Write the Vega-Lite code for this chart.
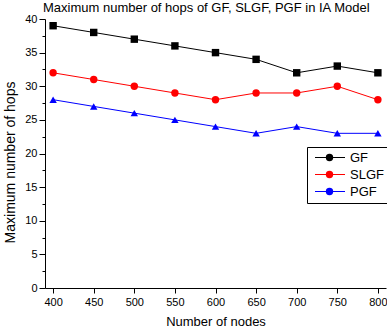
{
  "$schema": "https://vega.github.io/schema/vega-lite/v6.json",
  "width": 341,
  "height": 269,
  "autosize": {"type": "none"},
  "padding": {"left": 45, "top": 19, "right": 1, "bottom": 47},
  "background": "white",
  "config": {
    "font": "Liberation Sans",
    "view": {"stroke": null},
    "axis": {"labelFont": "Liberation Sans", "titleFont": "Liberation Sans", "grid": false, "domainColor": "black", "tickColor": "black", "labelColor": "black", "titleColor": "black", "titleFontWeight": "normal", "labelFontSize": 11, "titleFontSize": 13, "domainWidth": 1, "tickWidth": 1}
  },
  "title": {"text": "Maximum number of hops of GF, SLGF, PGF in IA Model", "anchor": "start", "frame": "group", "fontSize": 13, "fontWeight": "normal", "font": "Liberation Sans", "color": "black", "offset": -2, "dx": -2},
  "data": {"values": [
    {"nodes": 400, "series": "GF", "name": "GF", "hops": 39},
    {"nodes": 450, "series": "GF", "name": "GF", "hops": 38},
    {"nodes": 500, "series": "GF", "name": "GF", "hops": 37},
    {"nodes": 550, "series": "GF", "name": "GF", "hops": 36},
    {"nodes": 600, "series": "GF", "name": "GF", "hops": 35},
    {"nodes": 650, "series": "GF", "name": "GF", "hops": 34},
    {"nodes": 700, "series": "GF", "name": "GF", "hops": 32},
    {"nodes": 750, "series": "GF", "name": "GF", "hops": 33},
    {"nodes": 800, "series": "GF", "name": "GF", "hops": 32},
    {"nodes": 400, "series": "SLGF", "name": "SLGF", "hops": 32},
    {"nodes": 450, "series": "SLGF", "name": "SLGF", "hops": 31},
    {"nodes": 500, "series": "SLGF", "name": "SLGF", "hops": 30},
    {"nodes": 550, "series": "SLGF", "name": "SLGF", "hops": 29},
    {"nodes": 600, "series": "SLGF", "name": "SLGF", "hops": 28},
    {"nodes": 650, "series": "SLGF", "name": "SLGF", "hops": 29},
    {"nodes": 700, "series": "SLGF", "name": "SLGF", "hops": 29},
    {"nodes": 750, "series": "SLGF", "name": "SLGF", "hops": 30},
    {"nodes": 800, "series": "SLGF", "name": "SLGF", "hops": 28},
    {"nodes": 400, "series": "PGF", "name": "PGF", "hops": 28},
    {"nodes": 450, "series": "PGF", "name": "PGF", "hops": 27},
    {"nodes": 500, "series": "PGF", "name": "PGF", "hops": 26},
    {"nodes": 550, "series": "PGF", "name": "PGF", "hops": 25},
    {"nodes": 600, "series": "PGF", "name": "PGF", "hops": 24},
    {"nodes": 650, "series": "PGF", "name": "PGF", "hops": 23},
    {"nodes": 700, "series": "PGF", "name": "PGF", "hops": 24},
    {"nodes": 750, "series": "PGF", "name": "PGF", "hops": 23},
    {"nodes": 800, "series": "PGF", "name": "PGF", "hops": 23}
  ]},
  "resolve": {"axis": {"y": "independent", "x": "independent"}},
  "layer": [
    {
      "mark": {"type": "line", "strokeWidth": 1},
      "encoding": {
        "x": {"field": "nodes", "type": "quantitative", "scale": {"domain": [390, 810], "nice": false, "zero": false},
          "axis": {"orient": "bottom", "values": [400, 450, 500, 550, 600, 650, 700, 750, 800], "tickSize": 5, "labelPadding": 3, "title": "Number of nodes", "titlePadding": 8}},
        "y": {"field": "hops", "type": "quantitative", "scale": {"domain": [0, 40], "nice": false},
          "axis": {"orient": "left", "values": [0, 5, 10, 15, 20, 25, 30, 35, 40], "tickSize": 6, "labelPadding": 2, "title": "Maximum number of hops", "titleFontSize": 14, "titleY": 143, "titlePadding": 7}},
        "stroke": {"field": "series", "type": "nominal", "sort": ["GF", "SLGF", "PGF"],
          "scale": {"range": ["#000000", "#ff0000", "#0000ff"]},
          "legend": {"title": null, "orient": "none", "legendX": 262, "legendY": 128, "symbolType": "M-5,0H5", "symbolSize": 36, "symbolStrokeWidth": 1, "symbolOffset": 12.5, "labelFontSize": 13, "labelColor": "black", "labelOffset": 13.5, "strokeColor": "black", "padding": 4, "rowPadding": 3}}
      }
    },
    {
      "mark": {"type": "point", "filled": true, "opacity": 1, "size": 55},
      "encoding": {
        "x": {"field": "nodes", "type": "quantitative", "axis": null},
        "y": {"field": "hops", "type": "quantitative",
          "axis": {"orient": "left", "values": [2.5, 7.5, 12.5, 17.5, 22.5, 27.5, 32.5, 37.5], "tickSize": 3, "labels": false, "domain": false, "title": null}},
        "fill": {"field": "name", "type": "nominal", "sort": ["GF", "SLGF", "PGF"],
          "scale": {"range": ["#000000", "#ff0000", "#0000ff"]},
          "legend": {"title": null, "orient": "none", "legendX": 262, "legendY": 128, "symbolSize": 55, "symbolOffset": 12, "labelOpacity": 0, "labelFontSize": 13, "labelOffset": 13.5, "padding": 4, "rowPadding": 3,
            "encode": {"symbols": {"update": {"shape": {"scale": "shape", "field": "value"}}}}}},
        "shape": {"field": "name", "type": "nominal", "sort": ["GF", "SLGF", "PGF"],
          "scale": {"range": ["square", "circle", "triangle-up"]}, "legend": null}
      }
    }
  ]
}
